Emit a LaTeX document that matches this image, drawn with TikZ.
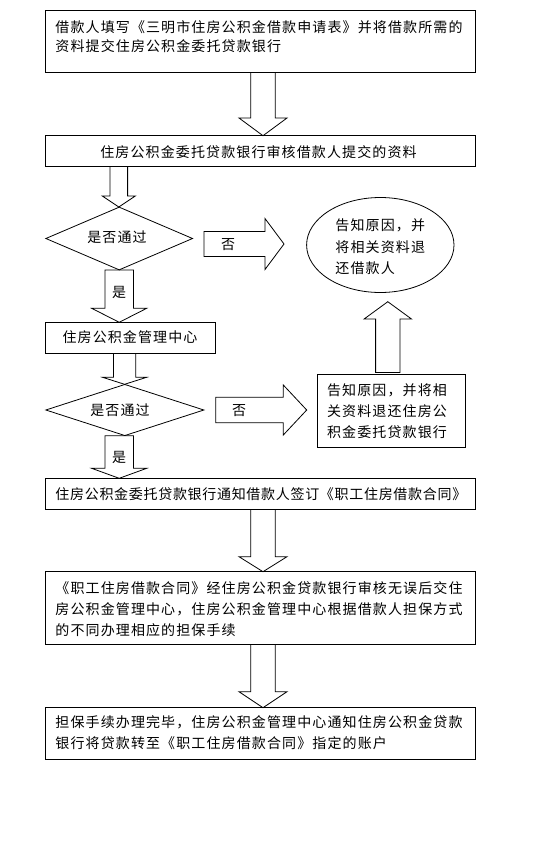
\documentclass[tikz,border=0pt]{standalone}
\usepackage{fontspec}
\setmainfont[LetterSpace=8]{Noto Sans CJK SC}
\newfontfamily\cjkn[LetterSpace=5]{Noto Sans CJK SC}
\usetikzlibrary{shapes.geometric}
\newcommand\dnarrow[6]{% cx, ytop, yneck, ytip, shaft half, head half
  \draw (#1-#5,#2) -- (#1-#5,#3) -- (#1-#6,#3) -- (#1,#4) -- (#1+#6,#3) -- (#1+#5,#3) -- (#1+#5,#2);}
\newcommand\dnarrowc[6]{%
  \draw (#1-#5,#2) -- (#1-#5,#3) -- (#1-#6,#3) -- (#1,#4) -- (#1+#6,#3) -- (#1+#5,#3) -- (#1+#5,#2) -- cycle;}
\newcommand\rtarrow[6]{% xleft, cy, xneck, xtip, shaft half, head half
  \draw (#1,#2-#5) -- (#3,#2-#5) -- (#3,#2-#6) -- (#4,#2) -- (#3,#2+#6) -- (#3,#2+#5) -- (#1,#2+#5) -- cycle;}
\begin{document}
\begin{tikzpicture}[x=1pt,y=-1pt,line width=0.8pt,line join=miter,
  font=\fontsize{14}{18}\selectfont,
  box/.style={draw,rectangle,inner sep=0pt},
  txt/.style={inner sep=0pt,text height=12.3pt,text depth=1.7pt}]
\useasboundingbox (0,0) rectangle (552,863);
\fill[white] (0,0) rectangle (552,863);

% boxes
\node[box,minimum width=430pt,minimum height=62pt] (b1) at (260,41) {};
\node[box,minimum width=430pt,minimum height=30.3pt] (b2) at (260,150.85) {};
\node[box,minimum width=170pt,minimum height=31pt] (b3) at (130,337.8) {};
\node[box,minimum width=148pt,minimum height=73.3pt] (b4) at (391.7,410.65) {};
\node[box,minimum width=430pt,minimum height=31pt] (b5) at (260,493.8) {};
\node[box,minimum width=430pt,minimum height=72.3pt] (b6) at (260,607.85) {};
\node[box,minimum width=430pt,minimum height=51.3pt] (b7) at (260,733.35) {};
\node[draw,ellipse,minimum width=147.4pt,minimum height=95pt,inner sep=0pt] (e) at (380.3,245) {};
\node[draw,diamond,minimum width=147pt,minimum height=63pt,inner sep=0pt] (d1) at (119.2,238.5) {};
\node[draw,diamond,minimum width=158.3pt,minimum height=51.4pt,inner sep=0pt] (d2) at (124.85,410) {};

% texts
\node[txt,anchor=west] (t1a) at (55,27) {借款人填写《三明市住房公积金借款申请表》并将借款所需的};
\node[txt,anchor=west] (t1b) at (55,46) {资料提交住房公积金委托贷款银行};
\node[txt] (t2) at (258.5,151.7) {住房公积金委托贷款银行审核借款人提交的资料};
\node[txt] (td1) at (117,236.7) {是否通过};
\node[txt] (tno1) at (228,244) {否};
\node[txt,anchor=west] (tea) at (335,225) {告知原因，并};
\node[txt,anchor=west] (teb) at (335,246.7) {将相关资料退};
\node[txt,anchor=west] (tec) at (335,268.3) {还借款人};
\node[txt] (tyes1) at (119,291.7) {是};
\node[txt] (t3) at (130,336.7) {住房公积金管理中心};
\node[txt] (td2) at (120,410) {是否通过};
\node[txt] (tno2) at (239,410) {否};
\node[txt,anchor=west] (t4a) at (326.7,390) {告知原因，并将相};
\node[txt,anchor=west] (t4b) at (326.7,411) {关资料退还住房公};
\node[txt,anchor=west] (t4c) at (326.7,431.7) {积金委托贷款银行};
\node[txt] (tyes2) at (119,456.7) {是};
\node[txt,anchor=west,font=\cjkn\fontsize{14}{18}\selectfont] (t5) at (55,494) {住房公积金委托贷款银行通知借款人签订《职工住房借款合同》};
\node[txt,anchor=west] (t6a) at (55,588.3) {《职工住房借款合同》经住房公积金贷款银行审核无误后交住};
\node[txt,anchor=west] (t6b) at (55,609.3) {房公积金管理中心，住房公积金管理中心根据借款人担保方式};
\node[txt,anchor=west] (t6c) at (55,630) {的不同办理相应的担保手续};
\node[txt,anchor=west] (t7a) at (55,721.7) {担保手续办理完毕，住房公积金管理中心通知住房公积金贷款};
\node[txt,anchor=west] (t7b) at (55,742.7) {银行将贷款转至《职工住房借款合同》指定的账户};

% block arrows
\dnarrow{263}{72}{118}{135.7}{12.2}{24}
\dnarrow{118.8}{166}{196}{207}{8.8}{16.5}
\dnarrowc{119.2}{270}{308.3}{322.3}{14.2}{27.5}
\dnarrow{124.6}{353.3}{377.3}{384.3}{11.2}{22}
\dnarrowc{119.2}{435.7}{468.3}{478.3}{14.2}{27.5}
\dnarrow{263}{509.3}{556.7}{571.7}{12.2}{24}
\dnarrow{263}{644}{691.7}{707.7}{12.2}{24}
\rtarrow{204}{244}{265}{284}{12.5}{25.5}
\rtarrow{215.7}{410}{283.3}{306.7}{12.7}{25}
\draw (375.6,372.5) -- (375.6,319) -- (364.1,319) -- (387.8,301.7) -- (411.5,319) -- (400,319) -- (400,372.5) -- cycle;
\end{tikzpicture}
\end{document}
